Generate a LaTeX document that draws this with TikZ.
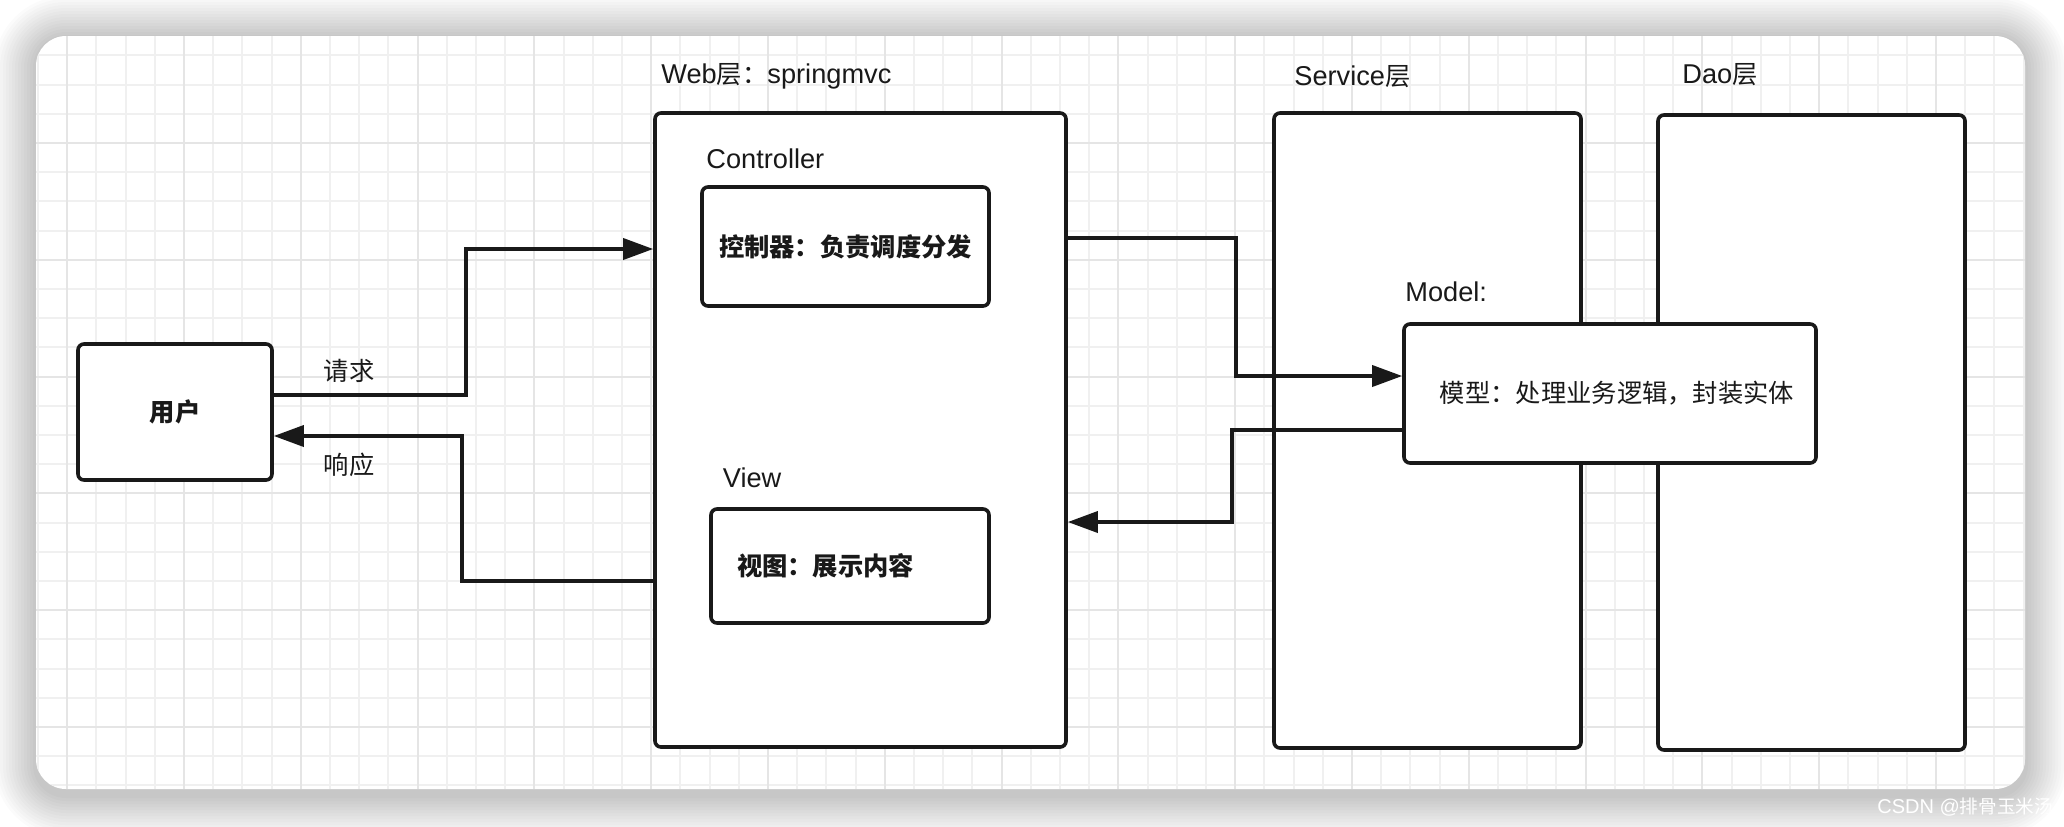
\documentclass[tikz,border=0pt]{standalone}
\usepackage{fontspec}
\setmainfont{Liberation Sans}
\newfontfamily\cjk[Scale=0.93]{Noto Sans CJK SC}
\usetikzlibrary{arrows.meta}

\begin{document}
\begin{tikzpicture}[x=0.5pt, y=-0.5pt,
  font=\fontsize{13.6}{16}\selectfont, color=black!90,
  box/.style={draw, line width=1.8pt, rounded corners=3pt, fill=white},
  lbl/.style={anchor=west, inner sep=0pt},
  arr/.style={line width=1.8pt, -{Triangle[length=15pt,width=10.5pt]}},
  gmin/.style={line width=1pt, black!6},
  gmaj/.style={line width=1pt, black!10}]
  \useasboundingbox[fill=white] (0,0) rectangle (2064,826);
  \foreach \r in {1,...,14}
    \fill[black, opacity=0.016, rounded corners={15pt+1.5pt*\r}] ({36-3*\r},{38-3*\r}) rectangle ({2025+3*\r},{795+3*\r});
  \fill[white, rounded corners=15pt] (36,36) rectangle (2025,789);
  \begin{scope}
    \clip[rounded corners=15pt] (36,36) rectangle (2025,789);
    \foreach \k in {-5,...,63} \draw[gmin] ({184+29.2*\k},36) -- ++(0,753);
    \foreach \k in {-3,...,22} \draw[gmin] (36,{143+29.2*\k}) -- ++(1989,0);
    \foreach \k in {-1,...,15} \draw[gmaj] ({184+116.8*\k},36) -- ++(0,753);
    \foreach \k in {-1,...,5} \draw[gmaj] (36,{143+116.8*\k}) -- ++(1989,0);
  \end{scope}

  \node[box, minimum width=97pt, minimum height=68pt] (usr) at (175,412) {\cjk\bfseries 用户};
  \node[box, minimum width=205.5pt, minimum height=317pt] (web) at (860.5,430) {};
  \node[box, minimum width=153.5pt, minimum height=317.5pt] (svc) at (1427.5,430.5) {};
  \node[box, minimum width=153.5pt, minimum height=317.5pt] (dao) at (1811.5,432.5) {};
  \node[box, minimum width=143.5pt, minimum height=59.5pt] (ctl) at (845.5,246.5) {\cjk\bfseries 控制器：负责调度分发};
  \node[box, minimum width=139pt, minimum height=57pt, text width=113pt, inner xsep=13pt, align=left] (view) at (850,566) {\cjk\bfseries 视图：展示内容};
  \node[box, minimum width=206pt, minimum height=69.5pt] (mdl) at (1610,393.5) {\cjk\raisebox{-2.5pt}{\hspace{7pt}模型：处理业务逻辑，封装实体}};

  \node[lbl] (webt) at (661,76) {Web{\cjk 层：}springmvc};
  \node[lbl] (ctlt) at (706,159) {Controller};
  \node[lbl] (viewt) at (722.5,478) {View};
  \node[lbl] (svct) at (1294,77) {Service{\cjk 层}};
  \node[lbl] (daot) at (1682,75) {Dao{\cjk 层}};
  \node[lbl] (mdlt) at (1405,292) {Model:};
  \node (reqt) at (349,371) {\cjk 请求};
  \node (rest) at (349,465) {\cjk 响应};
  \node[lbl, white, font=\fontsize{10}{12}\selectfont] (wm) at (1877,807) {CSDN @{\cjk 排骨玉米汤}};

  \draw[arr] (usr.east |- 0,395) -- ++(192,0) |- (web.west |- 0,249);
  \draw[arr] (web.west |- 0,581) -- ++(-191,0) |- (usr.east |- 0,436);
  \draw[arr] (web.east |- 0,238) -- ++(168,0) |- (mdl.west |- 0,376);
  \draw[arr] (mdl.west |- 0,430) -- ++(-170,0) |- (web.east |- 0,522);
\end{tikzpicture}
\end{document}
